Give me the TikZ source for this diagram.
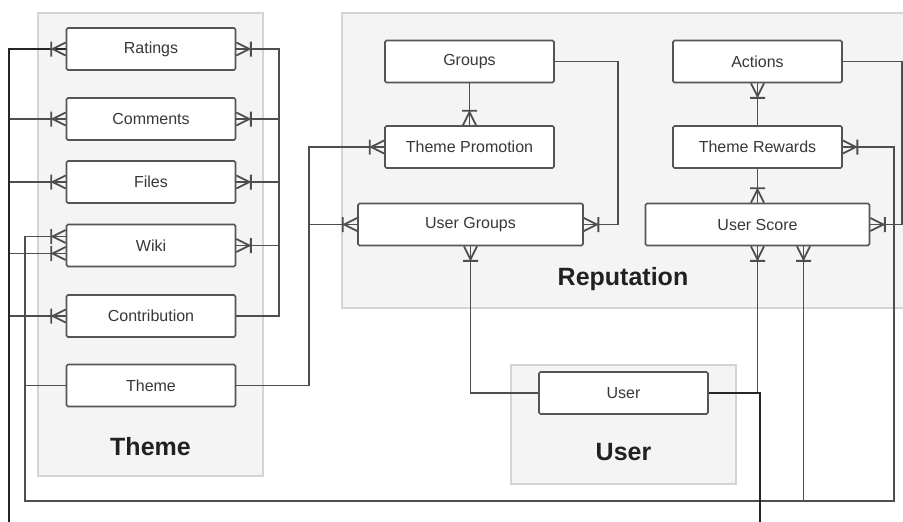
\documentclass[tikz,border=0pt]{standalone}
\usepackage{fontspec}
\setmainfont{Liberation Sans}
\usepackage{tikz}
\usetikzlibrary{backgrounds}
\definecolor{boxline}{HTML}{555555}
\definecolor{groupfill}{HTML}{F4F4F4}
\definecolor{groupline}{HTML}{D4D4D4}
\definecolor{linkline}{HTML}{4E4E4E}
\definecolor{mainlink}{HTML}{262626}
\tikzset{
  entity/.style={draw=boxline, line width=1.7pt, fill=white, rounded corners=1.5pt,
    minimum width=169pt, minimum height=42pt, inner sep=0pt, text=black!78,
    font=\fontsize{16}{18}\selectfont},
  wideentity/.style={entity, minimum width=225pt},
  group/.style={draw=groupline, line width=1.8pt, fill=groupfill},
  grouplabel/.style={font=\fontsize{25}{28}\selectfont\bfseries, text=black!87},
  link/.style={draw=linkline, line width=1.8pt},
  userlink/.style={draw=mainlink, line width=2.2pt},
  % one-or-many end, drawn pointing along +x from the box edge
  crow/.pic={\draw[link] (0,-6.5) -- (13,0) -- (0,6.5) (14.5,-7.5) -- (14.5,7.5);}
}
\begin{document}
\begin{tikzpicture}[x=1pt, y=-1pt]
\useasboundingbox (0,0) rectangle (903,522);
\clip (0,0) rectangle (903,522);

% packages
\path[group] (38,13) rectangle (263,476);
\path[group] (342,13) rectangle (915,308);
\path[group] (511,365) rectangle (736,484);
\node[grouplabel] (themelabel) at (150.5,447) {Theme};
\node[grouplabel] (replabel) at (623,279) {Reputation};
\node[grouplabel] (userlabel) at (623.5,452) {User};

% Theme
\node[entity] (ratings) at (151,49) {Ratings};
\node[entity] (comments) at (151,119) {Comments};
\node[entity] (files) at (151,182) {Files};
\node[entity] (wiki) at (151,245.5) {Wiki};
\node[entity] (contribution) at (151,316) {Contribution};
\node[entity] (theme) at (151,385.5) {Theme};

% Reputation
\node[entity] (groups) at (469.5,61.5) {Groups};
\node[entity] (promotion) at (469.5,147) {Theme Promotion};
\node[wideentity] (usergroups) at (470.5,224.5) {User Groups};
\node[entity] (actions) at (757.5,61.5) {Actions};
\node[entity] (rewards) at (757.5,147) {Theme Rewards};
\node[wideentity, minimum width=224pt] (score) at (757.5,224.5) {User Score};

% User
\node[entity] (user) at (623.5,393) {User};

% contribution -> theme items
\draw[link] (contribution.east) -| ([xshift=43pt]ratings.east) -- (ratings.east);
\foreach \n in {comments,files,wiki}
  \draw[link] (\n.east) -- ++(43,0);

% theme -> wiki, rewards, promotion, user groups
\draw[link] ([yshift=9pt]wiki.west) -- ++(-41,0) |- (theme.west);
\draw[link] (theme.west) -- ++(-41,0) -- ++(0,115.5) -| ([xshift=51pt]rewards.east) -- (rewards.east);
\draw[link] ([xshift=46pt]score.south) -- ++(0,255);
\draw[link] (theme.east) -| ([xshift=-75pt]promotion.west) -- (promotion.west);
\draw[link] (usergroups.west) -- ++(-48,0);

% reputation
\draw[link] (groups) -- (promotion);
\draw[link] (groups.east) -| ([xshift=34pt]usergroups.east) -- (usergroups.east);
\draw[link] (actions) -- (rewards);
\draw[link] (rewards) -- (score);
\draw[link] (actions.east) -| ([xshift=32pt]score.east) -- (score.east);
\draw[link] (usergroups.south) |- (user.west);
\draw[link] (score.south) |- (user.east);

% user -> theme items
\foreach \n in {comments,files,contribution}
  \draw[link] (\n.west) -- ++(-57,0);
\draw[link] ([yshift=-8pt]wiki.west) -- ++(-57,0);
\draw[userlink] (user.east) -- ++(51,0) -- ++(0,160) -| ([xshift=-57pt]ratings.west) -- (ratings.west);

% crow's feet
\foreach \n in {ratings,comments,files,contribution,promotion,usergroups}
  \pic[rotate=180] at (\n.west) {crow};
\pic[rotate=180] at ([yshift=9pt]wiki.west) {crow};
\pic[rotate=180] at ([yshift=-8pt]wiki.west) {crow};
\foreach \n in {ratings,comments,files,wiki,usergroups,rewards,score}
  \pic at (\n.east) {crow};
\foreach \n in {promotion,score}
  \pic[rotate=90] at (\n.north) {crow};
\foreach \n in {usergroups,actions,score}
  \pic[rotate=-90] at (\n.south) {crow};
\pic[rotate=-90] at ([xshift=46pt]score.south) {crow};
\end{tikzpicture}
\end{document}
